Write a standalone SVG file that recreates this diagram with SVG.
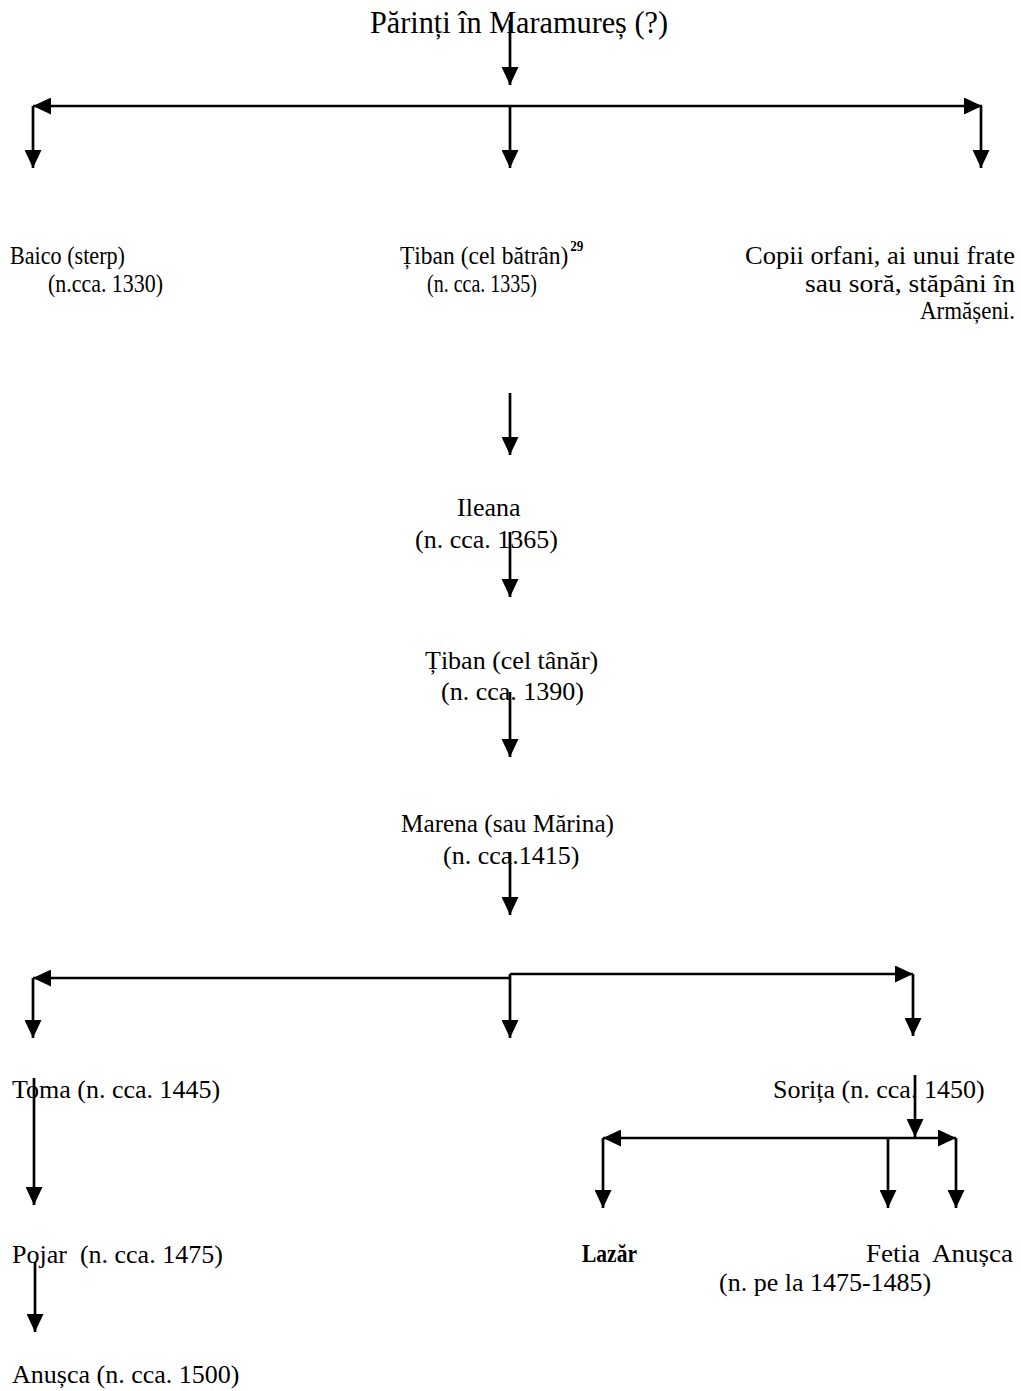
<svg xmlns="http://www.w3.org/2000/svg" width="1021" height="1391" viewBox="0 0 1021 1391">
<style>
text{font-family:"Liberation Serif","Times New Roman",serif;font-size:26px;fill:#000;white-space:pre}
.cond{font-size:25px}
.title{font-size:31px}
.sup{font-size:14px;font-weight:bold}
.b{font-weight:bold}
.c path{fill:none;stroke:#000;stroke-width:2.7}
</style>
<defs>
<marker id="ah" markerUnits="userSpaceOnUse" markerWidth="18" markerHeight="17" refX="18" refY="8.5" orient="auto-start-reverse">
<path d="M0,0 L18,8.5 L0,17 z" fill="#000"/>
</marker>
</defs>
<rect width="1021" height="1391" fill="#fff"/>
<g id="n-parinti"><text class="title" x="370" y="33" textLength="298" lengthAdjust="spacingAndGlyphs">Părinți în Maramureș (?)</text></g>
<g id="n-baico"><text class="cond" x="10" y="264" textLength="115" lengthAdjust="spacingAndGlyphs">Baico (sterp)</text><text class="cond" x="48" y="292" textLength="115" lengthAdjust="spacingAndGlyphs">(n.cca. 1330)</text></g>
<g id="n-tiban1"><text class="cond" transform="translate(400 264) scale(0.94 1)">Țiban (cel bătrân)<tspan class="sup" dx="2" dy="-13">29</tspan></text><text class="cond" x="427" y="292" textLength="110" lengthAdjust="spacingAndGlyphs">(n. cca. 1335)</text></g>
<g id="n-copii"><text class="cond" x="745" y="264" textLength="270" lengthAdjust="spacingAndGlyphs">Copii orfani, ai unui frate</text><text class="cond" x="805" y="292" textLength="210" lengthAdjust="spacingAndGlyphs">sau soră, stăpâni în</text><text class="cond" x="920" y="319" textLength="95" lengthAdjust="spacingAndGlyphs">Armășeni.</text></g>
<g id="n-ileana"><text x="457" y="516">Ileana</text><text x="415" y="548">(n. cca. 1365)</text></g>
<g id="n-tiban2"><text x="425" y="669">Țiban (cel tânăr)</text><text x="441" y="700">(n. cca. 1390)</text></g>
<g id="n-marena"><text x="401" y="832" textLength="213" lengthAdjust="spacingAndGlyphs">Marena (sau Mărina)</text><text x="443" y="864">(n. cca.1415)</text></g>
<g id="n-toma"><text x="12" y="1098">Toma (n. cca. 1445)</text></g>
<g id="n-sorita"><text x="773" y="1098">Sorița (n. cca. 1450)</text></g>
<g id="n-pojar"><text x="12" y="1263">Pojar  (n. cca. 1475)</text></g>
<g id="n-lazar"><text class="b" x="582" y="1262" textLength="55" lengthAdjust="spacingAndGlyphs">Lazăr</text></g>
<g id="n-fetia"><text x="866" y="1262" textLength="147" lengthAdjust="spacingAndGlyphs">Fetia  Anușca</text><text x="719" y="1291">(n. pe la 1475-1485)</text></g>
<g id="n-anusca"><text x="12" y="1383">Anușca (n. cca. 1500)</text></g>
<g id="connectors" class="c">
<path d="M510,20 V85" marker-end="url(#ah)"/>
<path d="M33,106 H982" marker-start="url(#ah)" marker-end="url(#ah)"/>
<path d="M33,106 V168" marker-end="url(#ah)"/>
<path d="M510,106 V168" marker-end="url(#ah)"/>
<path d="M981,106 V168" marker-end="url(#ah)"/>
<path d="M510,393 V455" marker-end="url(#ah)"/>
<path d="M510,532 V597" marker-end="url(#ah)"/>
<path d="M510,692 V757" marker-end="url(#ah)"/>
<path d="M510,852 V915" marker-end="url(#ah)"/>
<path d="M510,978 H33" marker-end="url(#ah)"/>
<path d="M510,974 H913" marker-end="url(#ah)"/>
<path d="M33,978 V1038" marker-end="url(#ah)"/>
<path d="M510,974 V1038" marker-end="url(#ah)"/>
<path d="M913,974 V1036" marker-end="url(#ah)"/>
<path d="M34,1078 V1205" marker-end="url(#ah)"/>
<path d="M915,1075 V1137" marker-end="url(#ah)"/>
<path d="M603,1138 H956" marker-start="url(#ah)" marker-end="url(#ah)"/>
<path d="M603,1138 V1208" marker-end="url(#ah)"/>
<path d="M888,1138 V1208" marker-end="url(#ah)"/>
<path d="M956,1138 V1208" marker-end="url(#ah)"/>
<path d="M35,1262 V1332" marker-end="url(#ah)"/>
</g>
</svg>
